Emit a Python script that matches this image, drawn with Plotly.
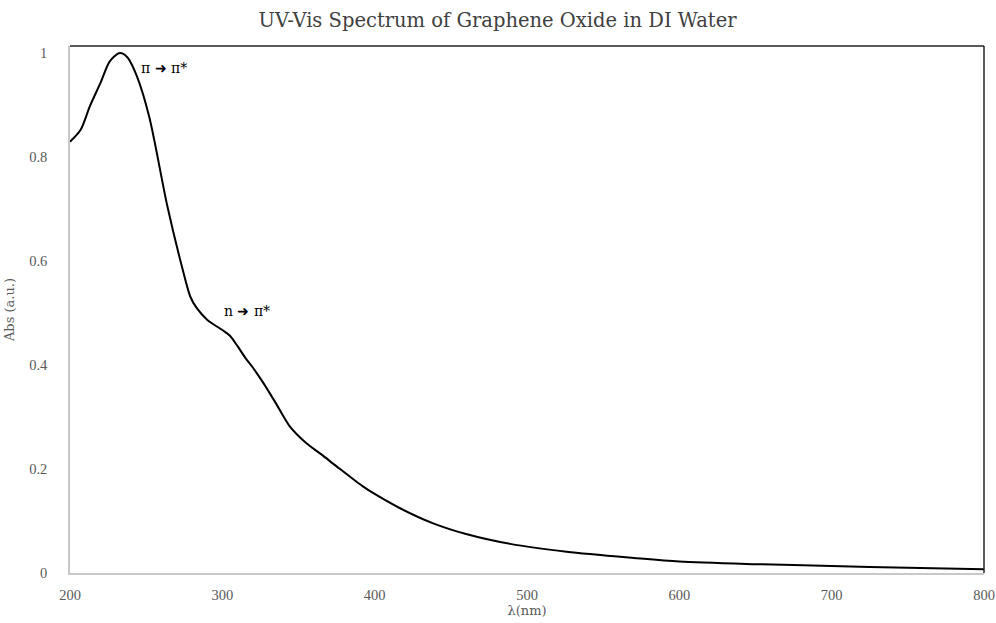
import plotly.graph_objects as go

wavelength = [200, 207, 213, 220, 226, 232, 235, 238, 244, 252, 264, 274, 279, 283,
              290, 300, 305, 310, 315, 320, 327, 335, 344, 355, 365, 375, 392, 400,
              417, 438, 460, 489, 526, 570, 600, 650, 700, 750, 800]
absorbance = [0.829, 0.852, 0.897, 0.942, 0.983, 0.999, 0.998, 0.990, 0.954, 0.877,
              0.704, 0.583, 0.531, 0.510, 0.487, 0.467, 0.456, 0.436, 0.414, 0.395,
              0.365, 0.327, 0.283, 0.250, 0.228, 0.205, 0.167, 0.152, 0.124, 0.096,
              0.075, 0.056, 0.041, 0.029, 0.022, 0.017, 0.0135, 0.010, 0.0071]

x_ticks = [200, 300, 400, 500, 600, 700, 800]
y_ticks = [0, 0.2, 0.4, 0.6, 0.8, 1]
y_tick_labels = ["0", "0.2", "0.4", "0.6", "0.8", "1"]

annotations_text = ["π ➜ π*", "n ➜ π*"]
annotations_x = [262, 316]
annotations_y = [0.971, 0.504]

FONT = "DejaVu Serif"
TICKFONT = "Liberation Serif"
GRAY = "#595959"

fig = go.Figure()
fig.add_trace(go.Scatter(
    x=wavelength, y=absorbance, mode="lines",
    line=dict(color="black", width=2, shape="spline", smoothing=0.8),
    showlegend=False, hoverinfo="x+y",
))

for t, ax, ay in zip(annotations_text, annotations_x, annotations_y):
    fig.add_annotation(x=ax, y=ay, text=t, showarrow=False,
                       font=dict(family=FONT, size=14, color="black"))

fig.update_layout(
    width=996, height=623,
    paper_bgcolor="white", plot_bgcolor="white",
    margin=dict(l=70, r=12, t=46, b=50),
    title=dict(text="UV-Vis Spectrum of Graphene Oxide in DI Water",
               x=0.4995, xanchor="center", y=0.968, yanchor="middle",
               font=dict(family=FONT, size=19.5, color="#404040")),
    font=dict(family=FONT, size=13, color=GRAY),
    shapes=[
        dict(type="line", xref="paper", yref="paper", x0=0, x1=1, y0=1, y1=1,
             line=dict(color="#222222", width=1.5)),
        dict(type="line", xref="paper", yref="paper", x0=1, x1=1, y0=0, y1=1,
             line=dict(color="#222222", width=1.5)),
    ],
)
fig.update_xaxes(
    range=[200, 800], tickvals=x_ticks, showgrid=False, zeroline=False,
    showline=True, linecolor="#c8c8c8", linewidth=1.5, automargin=False,
    ticks="", ticklabelstandoff=8, ticklabeloverflow="allow",
    tickfont=dict(family=TICKFONT, size=14.5, color=GRAY),
    title=dict(text="λ(nm)", standoff=4, font=dict(family=FONT, size=13, color=GRAY)),
)
fig.update_yaxes(
    range=[0, 1.013], tickvals=y_ticks, ticktext=y_tick_labels,
    showgrid=False, zeroline=False, automargin=False,
    showline=True, linecolor="#c8c8c8", linewidth=1.5,
    ticks="", ticklabelstandoff=18, ticklabeloverflow="allow",
    tickfont=dict(family=TICKFONT, size=14.5, color=GRAY),
    title=dict(text="Abs (a.u.)", standoff=12, font=dict(family=FONT, size=13, color=GRAY)),
)

fig.write_html("out.html",
               config={"displayModeBar": False},
               post_script="document.body.style.margin='0px';document.body.style.overflow='hidden';")
